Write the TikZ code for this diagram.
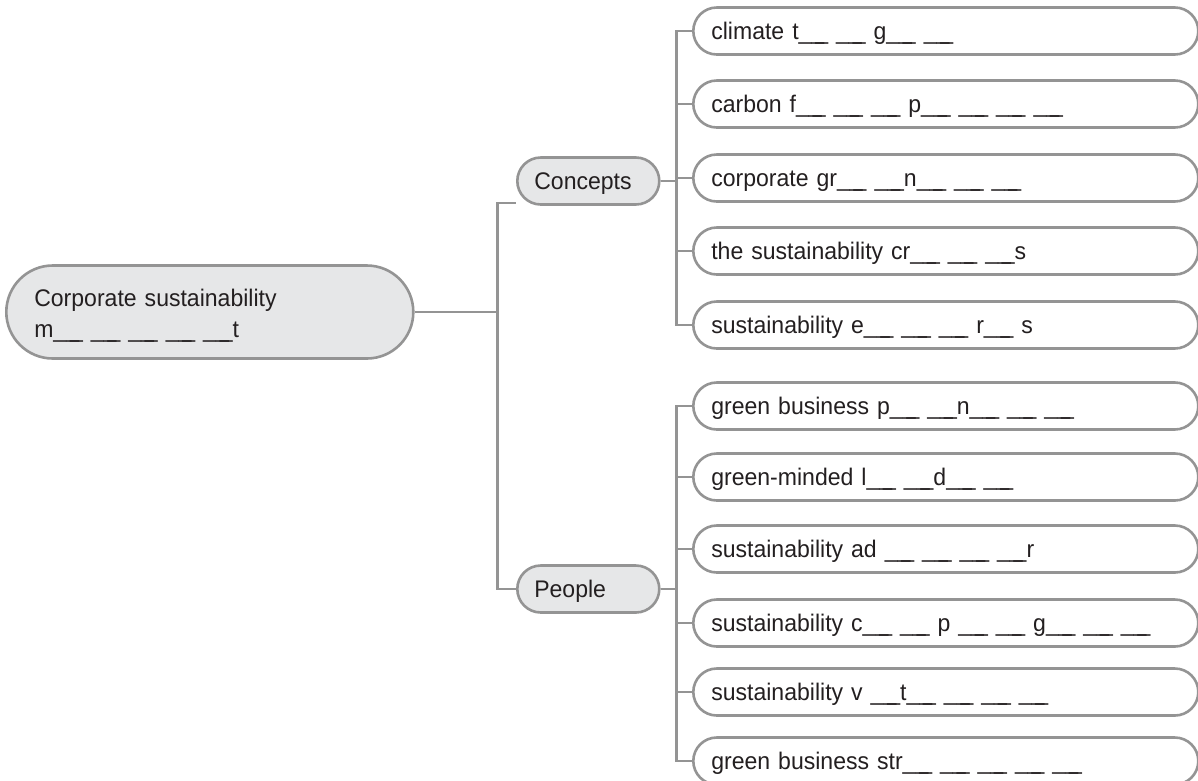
\documentclass[tikz,border=0pt]{standalone}
\usepackage{fontspec}
\setmainfont{Liberation Sans}[FakeStretch=0.96]
\usetikzlibrary{positioning}

\definecolor{linegray}{RGB}{148,148,148}
\definecolor{boxgray}{RGB}{230,231,232}
\definecolor{inkgray}{RGB}{35,31,32}
\newcommand{\blk}{\_\_\kern-9pt\_}

\begin{document}
\begin{tikzpicture}[x=1pt, y=-1pt, font=\fontsize{24}{31}\selectfont, text=inkgray,
	pill/.style={draw=linegray, line width=2.6pt, rounded corners=23.5pt, minimum height=47pt, align=left, inner ysep=0pt, text height=17pt, text depth=0pt},
	topic/.style={pill, fill=boxgray, text width=108pt, inner xsep=17pt},
	leaf/.style={pill, fill=white, text width=469pt, inner xsep=18pt},
	link/.style={draw=linegray, line width=2.6pt}]
	\useasboundingbox (0,0) rectangle (1198,780);
	\clip (0,0) rectangle (1198,780);

	% main topic and the two branches
	\node[pill, fill=boxgray, rounded corners=46.5pt, minimum height=93pt, text width=351pt, inner xsep=28pt, text height=18pt, text depth=30pt, anchor=west] (root) at (5,312) {Corporate sustainability\\m\blk{} \blk{} \blk{} \blk{} \blk{}t};
	\node[topic, anchor=west] (concepts) at (516,181) {Concepts};
	\node[topic, anchor=west] (people) at (516,589) {People};

	\draw[link] (root.east) -- ++(83,0) |- ([yshift=3pt]concepts.south west);
	\draw[link] (root.east) -- ++(83,0) |- (people.west);

	% concepts
	\foreach \y/\txt [count=\i] in {
		31/{climate t\blk{} \blk{} g\blk{} \blk},
		104/{carbon f\blk{} \blk{} \blk{} p\blk{} \blk{} \blk{} \blk},
		178/{corporate gr\blk{} \blk{}n\blk{} \blk{} \blk},
		251/{the sustainability cr\blk{} \blk{} \blk{}s},
		325/{sustainability e\blk{} \blk{} \blk{} r\blk{} s}} {
		\node[leaf, anchor=west] (c\i) at (692,\y) {\txt};
		\draw[link] (concepts.east) -- ++(16,0) |- (c\i.west);
	}

	% people
	\foreach \y/\txt [count=\i] in {
		406/{green business p\blk{} \blk{}n\blk{} \blk{} \blk},
		477/{green-minded l\blk{} \blk{}d\blk{} \blk},
		549/{sustainability ad \blk{} \blk{} \blk{} \blk{}r},
		623/{sustainability c\blk{} \blk{} p \blk{} \blk{} g\blk{} \blk{} \blk},
		692/{sustainability v \blk{}t\blk{} \blk{} \blk{} \blk},
		761/{green business str\blk{} \blk{} \blk{} \blk{} \blk}} {
		\node[leaf, anchor=west] (p\i) at (692,\y) {\txt};
		\draw[link] (people.east) -- ++(16,0) |- (p\i.west);
	}
\end{tikzpicture}
\end{document}
